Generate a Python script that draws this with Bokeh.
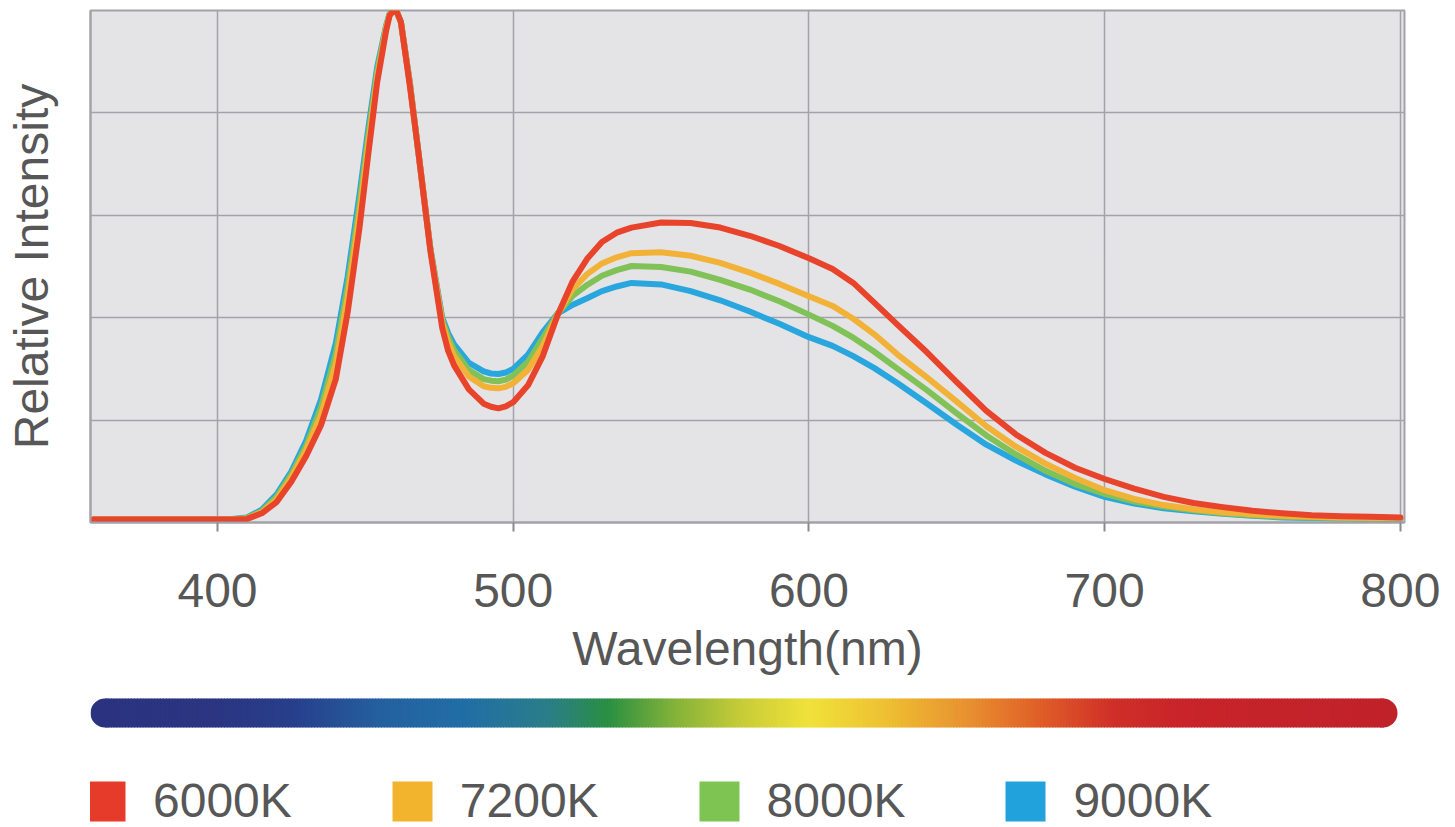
from bokeh.plotting import figure
from bokeh.models import Range1d, FixedTicker, Legend, LegendItem
from bokeh.layouts import column
from bokeh.embed import file_html
from bokeh.resources import INLINE

# ---------------- data ----------------
wavelength = [358, 390, 405, 410, 415, 420, 425, 430, 435, 440,
              444, 448, 451, 454, 457, 458.2, 459.5, 460.8, 462, 465, 468, 472,
              476, 478, 480, 485, 490, 492.5, 495, 497.5, 500, 505, 510, 515, 520,
              525, 530, 535, 540, 550, 560, 570, 580, 590, 600, 608,
              615, 622, 630, 640, 650, 660, 670, 680, 690, 700,
              710, 720, 730, 740, 750, 760, 770, 780, 790, 800]

k6000 = [0.006, 0.006, 0.006, 0.007, 0.018, 0.040, 0.080, 0.130, 0.190, 0.280,
         0.410, 0.575, 0.720, 0.860, 0.960, 0.990, 1.000, 0.995, 0.978, 0.855, 0.720, 0.530,
         0.380, 0.335, 0.307, 0.260, 0.232, 0.226, 0.223, 0.227, 0.235, 0.268, 0.325, 0.405, 0.470,
         0.515, 0.548, 0.566, 0.576, 0.586, 0.585, 0.576, 0.560, 0.540, 0.516, 0.495,
         0.468, 0.430, 0.386, 0.332, 0.274, 0.218, 0.172, 0.136, 0.107, 0.085,
         0.066, 0.050, 0.038, 0.030, 0.023, 0.018, 0.014, 0.012, 0.011, 0.010]

k7200 = [0.006, 0.006, 0.006, 0.008, 0.020, 0.045, 0.088, 0.142, 0.210, 0.310,
         0.440, 0.600, 0.740, 0.870, 0.965, 0.992, 1.000, 0.995, 0.978, 0.858, 0.720, 0.532,
         0.390, 0.352, 0.325, 0.285, 0.266, 0.263, 0.262, 0.265, 0.272, 0.298, 0.345, 0.406, 0.455,
         0.485, 0.506, 0.518, 0.526, 0.528, 0.521, 0.507, 0.488, 0.466, 0.442, 0.423,
         0.398, 0.368, 0.328, 0.283, 0.236, 0.188, 0.148, 0.115, 0.087, 0.063,
         0.046, 0.034, 0.026, 0.020, 0.016, 0.013, 0.011, 0.010, 0.009, 0.009]

k8000 = [0.006, 0.006, 0.006, 0.009, 0.022, 0.050, 0.094, 0.150, 0.225, 0.330,
         0.460, 0.620, 0.755, 0.880, 0.968, 0.993, 1.000, 0.995, 0.978, 0.860, 0.720, 0.534,
         0.395, 0.362, 0.337, 0.298, 0.280, 0.277, 0.276, 0.279, 0.287, 0.314, 0.360, 0.408, 0.442,
         0.464, 0.482, 0.493, 0.501, 0.499, 0.490, 0.474, 0.455, 0.432, 0.406, 0.384,
         0.361, 0.334, 0.300, 0.258, 0.213, 0.170, 0.133, 0.101, 0.075, 0.056,
         0.041, 0.031, 0.024, 0.018, 0.014, 0.011, 0.010, 0.009, 0.008, 0.008]

k9000 = [0.006, 0.006, 0.007, 0.010, 0.025, 0.055, 0.100, 0.160, 0.240, 0.350,
         0.480, 0.640, 0.770, 0.890, 0.970, 0.994, 1.000, 0.995, 0.978, 0.862, 0.720, 0.535,
         0.400, 0.370, 0.348, 0.312, 0.295, 0.291, 0.290, 0.293, 0.300, 0.328, 0.372, 0.408, 0.425,
         0.438, 0.452, 0.461, 0.468, 0.465, 0.452, 0.434, 0.412, 0.388, 0.362, 0.345,
         0.325, 0.302, 0.272, 0.232, 0.191, 0.152, 0.121, 0.094, 0.070, 0.050,
         0.037, 0.028, 0.022, 0.017, 0.013, 0.010, 0.009, 0.008, 0.007, 0.007]

series_names = ["6000K", "7200K", "8000K", "9000K"]
series_values = [k6000, k7200, k8000, k9000]
series_colors = ["#e8432b", "#f2b238", "#80c257", "#29a6dd"]
legend_colors = ["#e63b2b", "#f2b42c", "#7ec452", "#22a2dc"]

x_ticks = [400, 500, 600, 700, 800]
y_grid = [0.2, 0.4, 0.6, 0.8]

spectrum_wl = [357, 398, 426, 455, 483.5, 512, 532, 554.5, 577.5, 600, 626, 654, 677, 703, 726, 800]
spectrum_hex = ["#2b3380", "#2b3580", "#283f8c", "#2460a0", "#216ea6", "#2a7e88", "#2a8f42",
                "#84b23a", "#c8cc38", "#f0e23a", "#eec032", "#e89030", "#e06028", "#cf2f28",
                "#c8242a", "#c0222a"]

# ---------------- style ----------------
FONT = "Liberation Sans"
TEXT = "#575757"
GRID = "#a2a2aa"
FS = "48px"
X0, X1 = 357.05, 801.4

p = figure(width=1455, height=680, x_range=Range1d(X0, X1), y_range=Range1d(0, 1.0),
           output_backend="svg", toolbar_location=None,
           min_border_left=90, min_border_right=51, min_border_top=10, min_border_bottom=158)
p.background_fill_color = "#e4e4e6"
p.border_fill_color = "white"
p.outline_line_color = GRID
p.outline_line_width = 2

p.xgrid.ticker = FixedTicker(ticks=x_ticks)
p.ygrid.ticker = FixedTicker(ticks=y_grid)
p.grid.grid_line_color = GRID
p.grid.grid_line_width = 1.5

p.xaxis.ticker = FixedTicker(ticks=x_ticks)
p.xaxis.axis_line_color = GRID
p.xaxis.axis_line_width = 2
p.xaxis.major_tick_line_color = "#8a8a90"
p.xaxis.major_tick_line_width = 2
p.xaxis.major_tick_out = 9
p.xaxis.major_tick_in = 0
p.xaxis.minor_tick_line_color = None
p.xaxis.major_label_text_font = FONT
p.xaxis.major_label_text_font_size = FS
p.xaxis.major_label_text_color = TEXT
p.xaxis.major_label_standoff = 42
p.xaxis.axis_label = "Wavelength(nm)"
p.xaxis.axis_label_text_font = FONT
p.xaxis.axis_label_text_font_size = FS
p.xaxis.axis_label_text_font_style = "normal"
p.xaxis.axis_label_text_color = TEXT
p.xaxis.axis_label_standoff = 12

p.yaxis.ticker = FixedTicker(ticks=[])
p.yaxis.axis_line_color = GRID
p.yaxis.axis_line_width = 2
p.yaxis.major_tick_line_color = None
p.yaxis.minor_tick_line_color = None
p.yaxis.axis_label = "Relative Intensity"
p.yaxis.axis_label_text_font = FONT
p.yaxis.axis_label_text_font_size = FS
p.yaxis.axis_label_text_font_style = "normal"
p.yaxis.axis_label_text_color = TEXT
p.yaxis.axis_label_standoff = 33

# draw 9000K first so 6000K sits on top
for name, vals, col in reversed(list(zip(series_names, series_values, series_colors))):
    p.line(wavelength, vals, line_color=col, line_width=6, line_join="round", line_cap="round")

# ---------------- spectrum bar + legend ----------------
p2 = figure(width=1455, height=147, x_range=p.x_range, y_range=Range1d(0, 147),
            output_backend="svg", toolbar_location=None,
            min_border_left=90, min_border_right=51, min_border_top=0, min_border_bottom=0,
            x_axis_type=None, y_axis_type=None)
p2.grid.visible = False
p2.outline_line_color = None
p2.background_fill_color = "white"
p2.border_fill_color = "white"


def _rgb(h):
    return tuple(int(h[i:i + 2], 16) for i in (1, 3, 5))


def _color_at(w):
    if w <= spectrum_wl[0]:
        return spectrum_hex[0]
    for i in range(len(spectrum_wl) - 1):
        a, b = spectrum_wl[i], spectrum_wl[i + 1]
        if a <= w <= b:
            t = (w - a) / (b - a)
            ca, cb = _rgb(spectrum_hex[i]), _rgb(spectrum_hex[i + 1])
            c = [round(ca[j] + (cb[j] - ca[j]) * t) for j in range(3)]
            return "#%02x%02x%02x" % tuple(c)
    return spectrum_hex[-1]


px_per_nm = 1314 / (X1 - X0)
bar_left, bar_right = X0, 400 + (1397 - 217) / px_per_nm
cap = 14.5 / px_per_nm
bar_bottom, bar_top = 100, 129
n = 440
step = (bar_right - bar_left - 2 * cap) / n
lefts = [bar_left + cap + i * step for i in range(n)]
rights = [l + step * 1.3 for l in lefts]
cols = [_color_at(l + step / 2) for l in lefts]
p2.scatter([bar_left + cap, bar_right - cap], [(bar_bottom + bar_top) / 2] * 2, size=29,
           marker="circle", color=[_color_at(bar_left), _color_at(bar_right)], line_color=None)
p2.quad(left=lefts, right=rights, bottom=bar_bottom, top=bar_top, fill_color=cols, line_color=None)

items = []
for name, col in zip(series_names, legend_colors):
    # a swatch renderer placed off-screen; only its legend glyph is seen
    r = p2.quad(left=[0], right=[1], bottom=[-300], top=[-299], fill_color=col, line_color=None)
    items.append(LegendItem(label=name, renderers=[r]))
legend = Legend(items=items, orientation="horizontal", location=(-10, -1),
                glyph_width=50, glyph_height=50, label_standoff=23, spacing=95,
                padding=0, margin=0, border_line_color=None, background_fill_alpha=0,
                label_text_font=FONT, label_text_font_size=FS, label_text_color=TEXT)
p2.add_layout(legend, "center")

layout = column(p, p2, spacing=0)
open("out.html", "w").write(file_html(layout, INLINE))
